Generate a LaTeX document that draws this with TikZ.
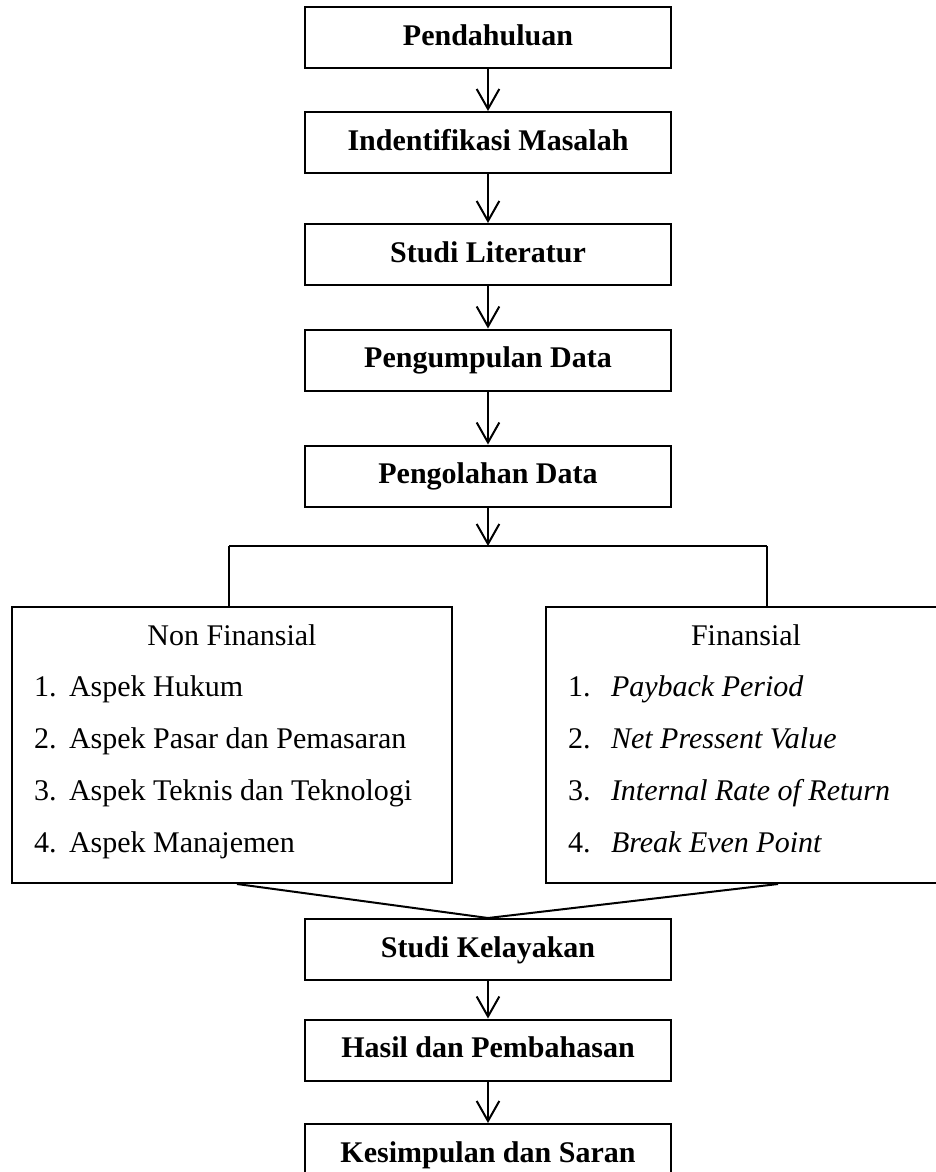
\documentclass[tikz,border=0pt]{standalone}
\usepackage{fontspec}
\setmainfont{Liberation Serif}
\usetikzlibrary{arrows.meta,calc}

\begin{document}
\begin{tikzpicture}[x=0.75pt, y=-0.75pt, line width=1.5pt,
        font=\fontsize{22.5}{27}\selectfont,
        stepbox/.style={draw, minimum width=366*0.75pt, minimum height=61*0.75pt, inner sep=0pt,
            text height=15.4pt, text depth=4pt, font=\fontsize{22.5}{27}\selectfont\bfseries},
        groupbox/.style={draw, inner sep=0pt, minimum height=276*0.75pt},
        item/.style={anchor=base west, inner sep=0pt},
        arr/.style={-{Straight Barb[length=15pt, width=17pt]}}]
        \useasboundingbox (0,0) rectangle (936,1172);
        \def \colx {488}
        \def \gap {51.75} % jarak baris dalam kotak

        % alur atas
        \foreach \nm/\y/\t in {pendahuluan/37.5/Pendahuluan, identifikasi/142.5/Indentifikasi Masalah,
            literatur/254.5/Studi Literatur, kumpul/360/Pengumpulan Data, olah/476/Pengolahan Data}
        {
        \node[stepbox] (\nm) at (\colx,\y) {\t};
        }
        \foreach \a/\b in {pendahuluan/identifikasi, identifikasi/literatur, literatur/kumpul, kumpul/olah}
        {
        \draw[arr] (\a.south) -- (\b.north);
        }

        % percabangan
        \coordinate (cabang) at (\colx,546);
        \coordinate (cabangL) at (229,546);
        \coordinate (cabangR) at (767,546);
        \draw[arr] (olah.south) -- (cabang);
        \draw (cabangL) -- (cabangR);

        \node[groupbox, minimum width=440*0.75pt] (nonfin) at (232,745) {};
        \node[groupbox, minimum width=398*0.75pt] (fin) at (745,745) {};
        \draw (cabangL) -- (cabangL |- nonfin.north);
        \draw (cabangR) -- (cabangR |- fin.north);

        \node[anchor=base, inner sep=0pt] (nonfinjudul) at (232,645) {Non Finansial};
        \node[anchor=base, inner sep=0pt] (finjudul) at (746,645) {Finansial};
        \foreach[count=\i] \t in {Aspek Hukum, Aspek Pasar dan Pemasaran, Aspek Teknis dan Teknologi, Aspek Manajemen}
        {
        \node[item] (nfno\i) at (33,{645+\gap*\i}) {\i.};
        \node[item] (nf\i) at (68,{645+\gap*\i}) {\t};
        }
        \foreach[count=\i] \t in {Payback Period, Net Pressent Value, Internal Rate of Return, Break Even Point}
        {
        \node[item] (fno\i) at (567,{645+\gap*\i}) {\i.};
        \node[item] (f\i) at (610,{645+\gap*\i}) {\textit{\t}};
        }

        % alur bawah
        \foreach \nm/\y/\t in {kelayakan/949.5/Studi Kelayakan, hasil/1050/Hasil dan Pembahasan,
            simpulan/1154.5/Kesimpulan dan Saran}
        {
        \node[stepbox] (\nm) at (\colx,\y) {\t};
        }
        \draw ($(nonfin.south)+(5,0)$) -- (kelayakan.north) -- ($(fin.south)+(33,0)$);
        \draw[arr] (kelayakan.south) -- (hasil.north);
        \draw[arr] (hasil.south) -- (simpulan.north);
    \end{tikzpicture}
\end{document}
